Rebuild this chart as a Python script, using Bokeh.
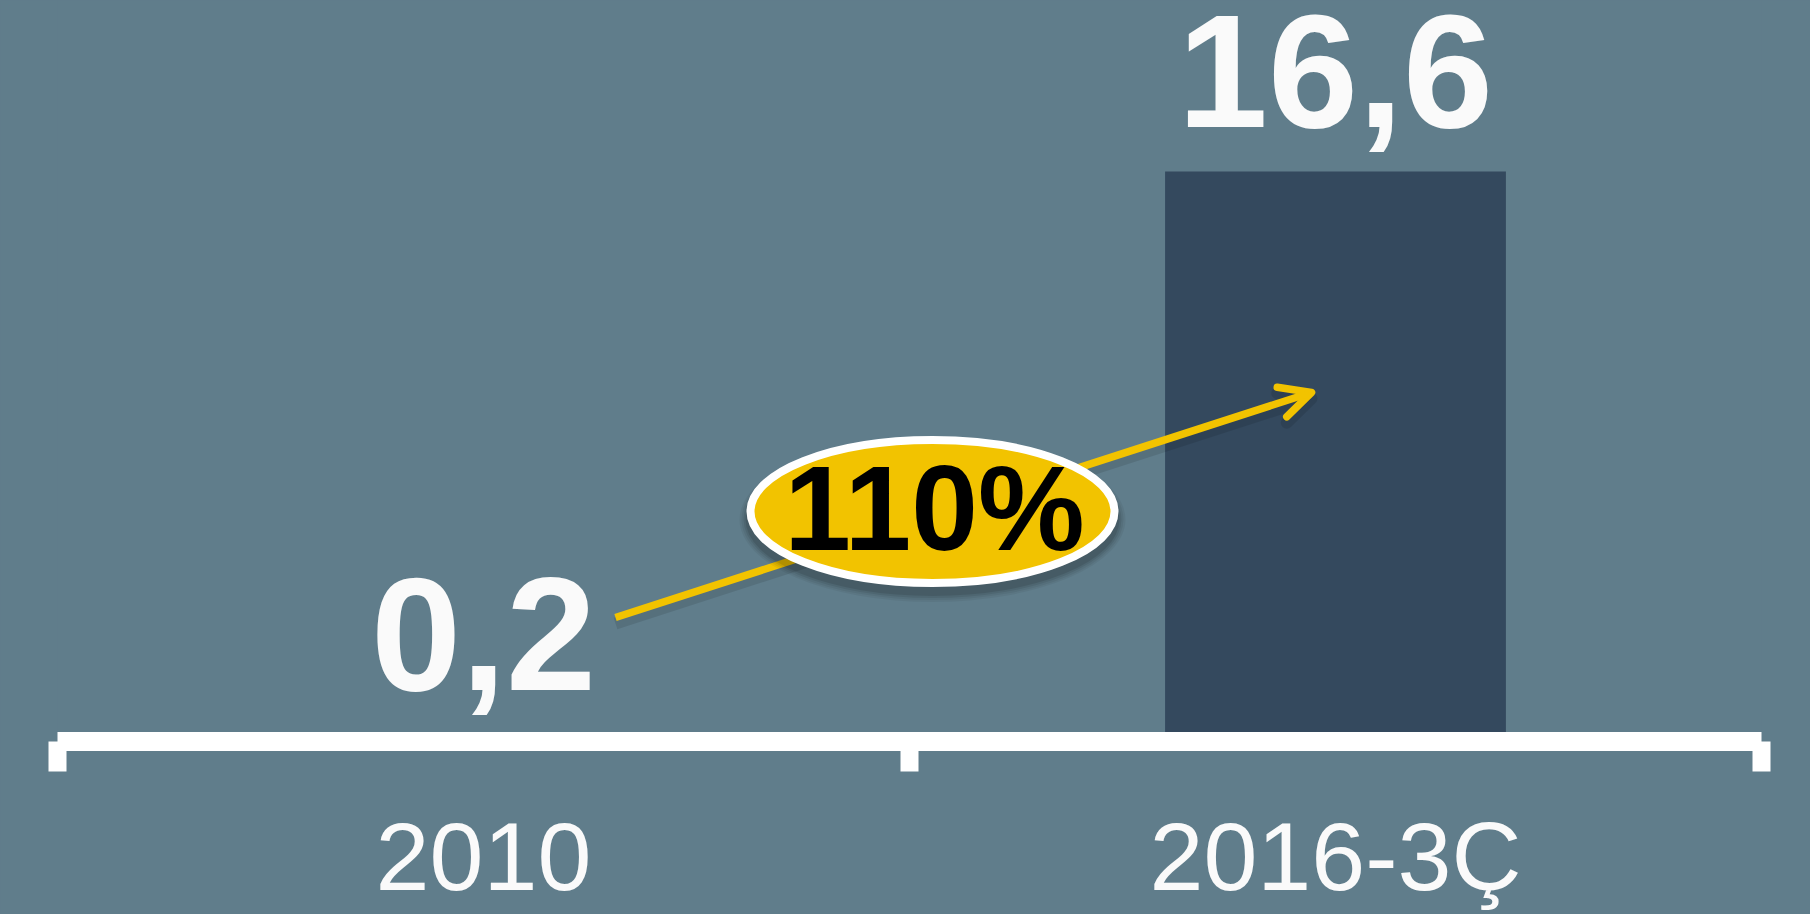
from bokeh.plotting import figure
from bokeh.models import (Range1d, FixedTicker, Arrow, OpenHead, GlobalInlineStyleSheet,
                          ColumnDataSource)
from bokeh.core.properties import value
from bokeh.embed import file_html
from bokeh.resources import INLINE

# ---------------- data ----------------
categories = ["2010", "2016-3Ç"]
values = [0.2, 16.6]
value_labels = ["0,2", "16,6"]
growth_label = "110%"

# ---------------- style ----------------
BG = "#607D8B"
BAR = "#34495E"
YELLOW = "#F2C300"
WHITE = "#FAFAFA"
FONT = "Liberation Sans"

W, H = 1810, 914
LEFT, RIGHT, TOP = 57, 49, 0
FRAME_H = 741
BOTTOM = H - FRAME_H - TOP
FRAME_W = W - LEFT - RIGHT
PX_PER_UNIT_Y = 34.34
Y_END = FRAME_H / PX_PER_UNIT_Y
X_END = len(categories)
PX_PER_UNIT_X = FRAME_W / X_END
BASELINE_FIX = 0.345  # em correction for text baseline placement

xs = [i + 0.5 for i in range(len(categories))]

p = figure(width=W, height=H, output_backend="svg", toolbar_location=None,
           x_range=Range1d(0, X_END), y_range=Range1d(0, Y_END),
           min_border_left=LEFT, min_border_right=RIGHT,
           min_border_top=TOP, min_border_bottom=BOTTOM)
p.background_fill_color = BG
p.border_fill_color = BG
p.outline_line_color = None
p.grid.visible = False
p.yaxis.visible = False

# bars
src = ColumnDataSource(dict(x=xs, top=values, label=value_labels))
p.vbar(x="x", top="top", bottom=0, width=0.4, source=src,
       fill_color=BAR, line_color=None)

# value labels
VAL_FS = 162
p.text(x="x", y="top", text="label", source=src, y_offset=-45 - BASELINE_FIX * VAL_FS,
       text_font=value(FONT), text_font_style="bold", text_font_size=f"{VAL_FS}px",
       text_color=WHITE, text_align="center", text_baseline="alphabetic")

# helpers: screen px -> data
def dx(px):
    return (px - LEFT) / PX_PER_UNIT_X

def dy(py):
    return (TOP + FRAME_H - py) / PX_PER_UNIT_Y

# growth arrow
ax0, ay0, ax1, ay1 = dx(615), dy(617), dx(1311), dy(392)
shadow = Arrow(x_start=ax0, y_start=ay0 - 6 / PX_PER_UNIT_Y,
               x_end=ax1, y_end=ay1 - 6 / PX_PER_UNIT_Y,
               line_color="black", line_alpha=0.10, line_width=12,
               end=OpenHead(size=31, line_color="black", line_alpha=0.10,
                            line_width=12, line_cap="round", line_join="round"))
p.add_layout(shadow)
arrow = Arrow(x_start=ax0, y_start=ay0, x_end=ax1, y_end=ay1,
              line_color=YELLOW, line_width=7.5,
              end=OpenHead(size=31, line_color=YELLOW, line_width=7.5,
                           line_cap="round", line_join="round"))
p.add_layout(arrow)

# ellipse badge with soft shadow
ex, ey = dx(932), dy(511)
for k, a in enumerate([0.05, 0.06, 0.08, 0.10]):
    grow = 14 - 4 * k
    p.ellipse(x=[ex], y=[ey - 8 / PX_PER_UNIT_Y], width=[372 + grow], height=[151 + grow],
              width_units="screen", height_units="screen",
              fill_color="black", fill_alpha=a, line_color=None, level="overlay")
p.ellipse(x=[ex], y=[ey], width=[364], height=[143],
          width_units="screen", height_units="screen",
          fill_color=YELLOW, line_color="white", line_width=8, level="overlay")
GR_FS = 120
p.text(x=[dx(934)], y=[dy(549)], text=[growth_label], y_offset=-BASELINE_FIX * GR_FS,
       text_font=value(FONT), text_font_style="bold", text_font_size=f"{GR_FS}px",
       text_color="black", text_align="center", text_baseline="alphabetic",
       level="overlay")

# axis
ax = p.xaxis[0]
ax.ticker = FixedTicker(ticks=xs, minor_ticks=list(range(len(categories) + 1)))
ax.major_label_overrides = {x: c for x, c in zip(xs, categories)}
ax.axis_line_color = "white"
ax.axis_line_width = 19
ax.axis_line_cap = "butt"
ax.major_tick_line_color = None
ax.major_tick_out = 0
ax.major_tick_in = 0
ax.minor_tick_line_color = "white"
ax.minor_tick_line_width = 18
ax.minor_tick_out = 30
ax.minor_tick_in = 0
ax.major_label_text_font = FONT
ax.major_label_text_font_size = "97px"
ax.major_label_text_line_height = 1.0
ax.major_label_text_color = WHITE
ax.major_label_standoff = 30

p.stylesheets = [GlobalInlineStyleSheet(
    css="html, body { background-color: #607D8B; overflow: hidden; }")]

open("out.html", "w").write(file_html(p, INLINE))
